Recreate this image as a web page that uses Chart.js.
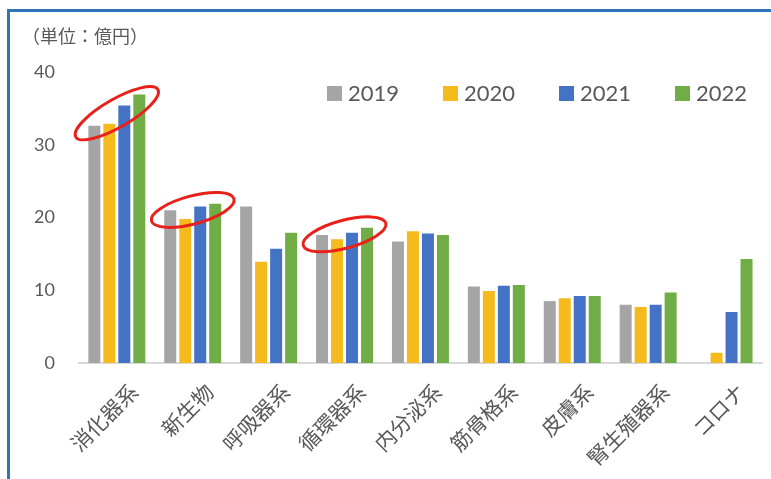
<!DOCTYPE html>
<html>
<head>
<meta charset="utf-8">
<script src="https://cdn.jsdelivr.net/npm/chart.js@4.4.1/dist/chart.umd.min.js"></script>
<style>
	html, body { margin: 0; padding: 0; background: #fff; }
	#wrap { position: relative; width: 771px; height: 479px; overflow: hidden; }
	#frame {
		position: absolute; left: 7px; top: 9px; width: 800px; height: 500px;
		border-left: 3px solid #2E75B6; border-top: 3px solid #2E75B6;
		pointer-events: none;
	}
</style>
</head>
<body>
<div id="wrap">
	<canvas id="costs" width="771" height="479"></canvas>
	<div id="frame"></div>
</div>
<script>
const categories = ['消化器系', '新生物', '呼吸器系', '循環器系', '内分泌系', '筋骨格系', '皮膚系', '腎生殖器系', 'コロナ'];
const years = ['2019', '2020', '2021', '2022'];
const values2019 = [32.6, 21.0, 21.5, 17.6, 16.7, 10.5, 8.5, 8.0, null];
const values2020 = [32.9, 19.8, 13.9, 17.0, 18.1, 9.9, 8.9, 7.7, 1.4];
const values2021 = [35.4, 21.5, 15.7, 17.9, 17.8, 10.6, 9.2, 8.0, 7.0];
const values2022 = [36.9, 21.9, 17.9, 18.6, 17.6, 10.7, 9.2, 9.7, 14.3];
const yTicks = [0, 10, 20, 30, 40];
const unitLabel = '（単位：億円）';
// groups marked with a red ring, with the ring's tilt in degrees
const circled = ['消化器系', '新生物', '循環器系'];
const circleTilt = [-30, -15, -15];

const colors = ['#A5A5A5', '#F5BA1C', '#4472C4', '#70AD47'];
const textColor = '#595959';
const jpFont = "'Noto Sans CJK JP', sans-serif";
const numFont = "Lato, 'Noto Sans CJK JP', sans-serif";

const seriesValues = [values2019, values2020, values2021, values2022];

const data_costs = {
	labels: categories,
	datasets: years.map((year, i) => ({
		label: year,
		data: seriesValues[i],
		backgroundColor: colors[i],
		borderWidth: 0,
		categoryPercentage: 0.79,
		barPercentage: 0.8,
	}))
};

// unit text, legend and red rings
const extras = {
	id: 'extras',
	afterDatasetsDraw(chart) {
		const ctx = chart.ctx;
		const y = chart.scales.y;
		ctx.save();
		ctx.strokeStyle = '#E8211B';
		ctx.lineWidth = 3;
		circled.forEach((name, k) => {
			const i = categories.indexOf(name);
			const first = chart.getDatasetMeta(0).data[i];
			const last = chart.getDatasetMeta(3).data[i];
			const cx = (first.x + last.x) / 2;
			const cy = y.getPixelForValue((values2019[i] + values2022[i]) / 2) + 3;
			const dist = Math.hypot(last.x - first.x, last.y - first.y);
			ctx.beginPath();
			ctx.ellipse(cx, cy, dist / 2 + 20, 14, circleTilt[k] * Math.PI / 180, 0, Math.PI * 2);
			ctx.stroke();
		});
		ctx.restore();
	},
	afterDraw(chart) {
		const ctx = chart.ctx;
		ctx.save();
		ctx.fillStyle = textColor;
		ctx.textBaseline = 'middle';
		ctx.font = '18px ' + jpFont;
		ctx.textAlign = 'left';
		ctx.fillText(unitLabel, 22, 36);

		ctx.font = '22px ' + numFont;
		years.forEach((year, i) => {
			const x = 327 + i * 116;
			ctx.fillStyle = colors[i];
			ctx.fillRect(x, 86, 15, 15);
			ctx.fillStyle = textColor;
			ctx.fillText(year, x + 21, 94);
		});
		ctx.restore();
	}
};

const config_costs = {
	type: 'bar',
	data: data_costs,
	plugins: [extras],
	options: {
		responsive: false,
		animation: false,
		devicePixelRatio: 1,
		layout: {
			// the y axis reserves its tick padding on both sides of the labels
			padding: { left: 18, right: 9, top: 72, bottom: 0 }
		},
		plugins: {
			legend: { display: false },
			title: { display: false },
			tooltip: { enabled: false }
		},
		scales: {
			x: {
				grid: { display: false },
				border: { display: true, color: '#D9D9D9', width: 2 },
				ticks: {
					color: textColor,
					font: { family: jpFont, size: 21 },
					minRotation: 45,
					maxRotation: 45,
					autoSkip: false,
					labelOffset: 17,
					padding: 8
				}
			},
			y: {
				min: yTicks[0],
				max: yTicks[yTicks.length - 1],
				grid: { display: false },
				border: { display: false },
				afterBuildTicks: scale => {
					scale.ticks = yTicks.map(v => ({ value: v }));
				},
				ticks: {
					color: textColor,
					font: { family: numFont, size: 18 },
					padding: 16
				}
			}
		}
	}
};

const costs = new Chart(document.getElementById('costs'), config_costs);
</script>
</body>
</html>
